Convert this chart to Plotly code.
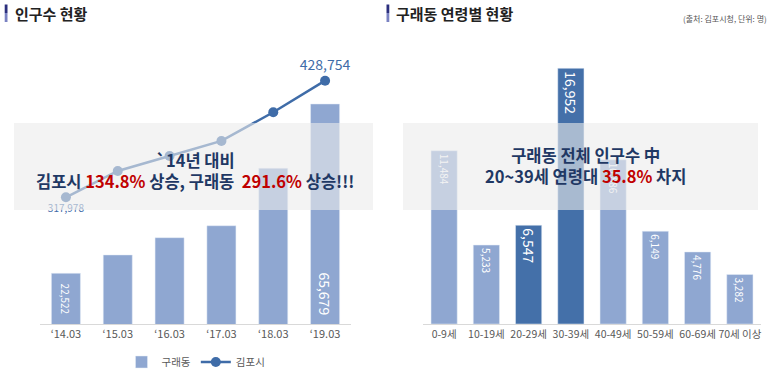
import plotly.graph_objects as go

# ---------------- data ----------------
years = ["‘14.03", "‘15.03", "‘16.03", "‘17.03", "‘18.03", "‘19.03"]
gurae_pop = [22522, 27200, 31600, 34650, 49300, 65679]          # 구래동 (bars)
gimpo_pop = [317978, 343000, 357200, 371500, 398800, 428754]    # 김포시 (line)

age_groups = ["0-9세", "10-19세", "20-29세", "30-39세", "40-49세", "50-59세", "60-69세", "70세 이상"]
age_pop = [11484, 5233, 6547, 16952, 10886, 6149, 4776, 3282]
highlight_groups = ["20-29세", "30-39세"]

# ---------------- style ----------------
W, H = 773, 378
FONT = "Noto Sans CJK KR"
LIGHT = "#8fa7d1"
DARK = "#4470a9"
LINE = "#3f6ca8"
NAVY = "#1f3864"
RED = "#c00000"
TICK = "#595959"

def px(x):
    return x / W

def py(y):
    return 1 - y / H

Y_BOTTOM_PX, Y_TOP_PX = 324, 40
dom_y = [py(Y_BOTTOM_PX), py(Y_TOP_PX)]
L_YMIN, L_YMAX = 9598, 81990
L2_YMIN, L2_YMAX = 197613, 467413
R_YMIN, R_YMAX = 0, 18829

fig = go.Figure()

# left: 구래동 bars
fig.add_trace(go.Bar(
    x=years, y=gurae_pop, name="구래동", marker_color=LIGHT, width=0.56,
    xaxis="x", yaxis="y", hoverinfo="skip",
))

# left: 김포시 line
n = len(gimpo_pop)
gimpo_text = [f"{v:,}" if i in (0, n - 1) else "" for i, v in enumerate(gimpo_pop)]
fig.add_trace(go.Scatter(
    x=years, y=gimpo_pop, name="김포시", mode="lines+markers+text",
    line=dict(color=LINE, width=2.5), marker=dict(size=10, color=LINE),
    text=gimpo_text,
    textposition=["bottom center"] + ["top center"] * (n - 1),
    textfont=dict(family=FONT, size=[10] + [14] * (n - 1), color=LINE),
    xaxis="x", yaxis="y2", hoverinfo="skip", cliponaxis=False,
))

# right: age bars
age_colors = [DARK if g in highlight_groups else LIGHT for g in age_groups]
age_sizes = [14 if g in highlight_groups else 10 for g in age_groups]
fig.add_trace(go.Bar(
    x=age_groups, y=age_pop, marker_color=age_colors, width=0.62,
    text=[f"{v:,}" for v in age_pop], textposition="inside",
    insidetextanchor="end", textangle=90,
    textfont=dict(family=FONT, color="white", size=age_sizes),
    xaxis="x2", yaxis="y3", showlegend=False, hoverinfo="skip",
))

annotations = []
# left bar labels (first and last), anchored near the base
for i, fs in ((0, 10), (len(gurae_pop) - 1, 14)):
    annotations.append(dict(
        x=years[i], y=L_YMIN, xref="x", yref="y", text=f"{gurae_pop[i]:,}",
        textangle=90, showarrow=False, yanchor="bottom", yshift=7,
        font=dict(family=FONT, size=fs, color="white"),
    ))

# titles
annotations += [
    dict(x=px(13), y=py(13), xref="paper", yref="paper", text="<b>인구수 현황</b>",
         showarrow=False, xanchor="left", yanchor="middle",
         font=dict(family=FONT, size=15, color="#222222")),
    dict(x=px(394), y=py(13), xref="paper", yref="paper", text="<b>구래동 연령별 현황</b>",
         showarrow=False, xanchor="left", yanchor="middle",
         font=dict(family=FONT, size=15, color="#222222")),
    dict(x=px(769), y=py(19), xref="paper", yref="paper", text="(출처: 김포시청, 단위: 명)",
         showarrow=False, xanchor="right", yanchor="middle",
         font=dict(family=FONT, size=8, color="#555555")),
    # overlay messages
    dict(x=px(195), y=py(171), xref="paper", yref="paper",
         text=("<b>`14년 대비<br>김포시 <span style='color:%s'>134.8%%</span> 상승, 구래동\u00a0 "
               "<span style='color:%s'>291.6%%</span> 상승!!!</b>") % (RED, RED),
         showarrow=False, xanchor="center", yanchor="middle",
         font=dict(family=FONT, size=16.5, color=NAVY)),
    dict(x=px(585), y=py(166), xref="paper", yref="paper",
         text="<b>구래동 전체 인구수 中<br>20~39세 연령대 <span style='color:%s'>35.8%%</span> 차지</b>" % RED,
         showarrow=False, xanchor="center", yanchor="middle",
         font=dict(family=FONT, size=16.5, color=NAVY)),
]

shapes = []
# title markers (navy -> lighter)
for x0 in (4.7, 386.5):
    shapes += [
        dict(type="rect", xref="paper", yref="paper", x0=px(x0), x1=px(x0 + 2.8),
             y0=py(13), y1=py(4.5), fillcolor="#2b2f7d", line=dict(width=0), layer="above"),
        dict(type="rect", xref="paper", yref="paper", x0=px(x0), x1=px(x0 + 2.8),
             y0=py(22), y1=py(13), fillcolor="#7a82c2", line=dict(width=0), layer="above"),
    ]
# translucent overlays
shapes += [
    dict(type="rect", xref="paper", yref="paper", x0=px(14), x1=px(373),
         y0=py(210), y1=py(123), fillcolor="rgba(235,235,235,0.6)",
         line=dict(width=0), layer="above"),
    dict(type="rect", xref="paper", yref="paper", x0=px(403), x1=px(758),
         y0=py(210), y1=py(123), fillcolor="rgba(235,235,235,0.6)",
         line=dict(width=0), layer="above"),
]

fig.update_layout(
    width=W, height=H, margin=dict(l=0, r=0, t=0, b=0),
    paper_bgcolor="white", plot_bgcolor="white",
    font=dict(family=FONT, color=TICK),
    bargap=0.4,
    xaxis=dict(domain=[px(40), px(351)], type="category", showline=True, linecolor="#d9d9d9",
               linewidth=1, ticks="", showgrid=False, tickfont=dict(size=11, color=TICK),
               anchor="y", fixedrange=True),
    yaxis=dict(domain=dom_y, range=[L_YMIN, L_YMAX], visible=False, showgrid=False, anchor="x"),
    yaxis2=dict(domain=dom_y, range=[L2_YMIN, L2_YMAX], visible=False, showgrid=False,
                overlaying="y", anchor="x"),
    xaxis2=dict(domain=[px(423), px(761)], type="category", showline=True, linecolor="#d9d9d9",
                linewidth=1, ticks="", showgrid=False, tickfont=dict(size=10.5, color=TICK),
                anchor="y3"),
    yaxis3=dict(domain=dom_y, range=[R_YMIN, R_YMAX], visible=False, showgrid=False, anchor="x2"),
    showlegend=True,
    legend=dict(orientation="h", x=px(196), xanchor="center", y=py(362), yanchor="middle",
                font=dict(family=FONT, size=10.5, color=TICK), bgcolor="rgba(0,0,0,0)"),
    annotations=annotations, shapes=shapes,
)

fig.write_html("out.html", config={"displayModeBar": False},
               post_script="document.body.style.margin='0';")
